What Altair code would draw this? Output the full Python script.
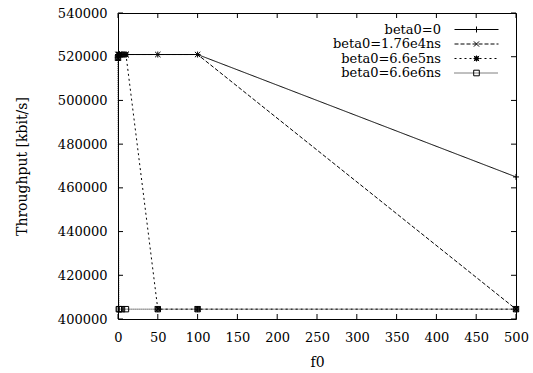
import altair as alt
import pandas as pd

# ---- data ----
f0_values = [0, 1, 2, 5, 10, 50, 100, 500]
series_names = ["beta0=0", "beta0=1.76e4ns", "beta0=6.6e5ns", "beta0=6.6e6ns"]
tp_beta0_0 = [521000, 521000, 521000, 521000, 521000, 521000, 521000, 465000]
tp_beta0_176e4 = [521000, 521000, 521000, 521000, 521000, 521000, 521000, 404500]
tp_beta0_66e5 = [519500, 521000, 521000, 521000, 521000, 404500, 404500, 404500]
tp_beta0_66e6 = [519500, 404500, 404500, 404500, 404500, 404500, 404500, 404500]
x_ticks = [0, 50, 100, 150, 200, 250, 300, 350, 400, 450, 500]
y_ticks = [400000, 420000, 440000, 460000, 480000, 500000, 520000, 540000]

all_tp = [tp_beta0_0, tp_beta0_176e4, tp_beta0_66e5, tp_beta0_66e6]
df = pd.DataFrame({
    "f0": [x for _ in series_names for x in f0_values],
    "tp": [v for s in all_tp for v in s],
    "series": [n for n in series_names for _ in f0_values],
})

W, H = 398, 306
FONT = "DejaVu Serif"
FS = 13
TFS = 14

# ---- styling helpers ----
dash_patterns = [[1, 0], [4, 2], [2, 3], [1, 1]]

# plot markers (path in [-1,1], size 36 -> 6px)
marker_paths = [
    "M-1,0L1,0M0,-1L0,1",
    "M-0.9,-0.9L0.9,0.9M-0.9,0.9L0.9,-0.9",
    "M-1,0L1,0M0,-1L0,1M-0.9,-0.9L0.9,0.9M-0.9,0.9L0.9,-0.9M-0.6,-0.6L0.6,-0.6L0.6,0.6L-0.6,0.6Z",
    "M-0.9,-0.9L0.9,-0.9L0.9,0.9L-0.9,0.9Z",
]

# legend samples: size 64 -> 4px per unit; line 44px wide = [-5.5,5.5]
U = 4.0
def line_path(on, off):
    if off == 0:
        return "M-5.5,0L5.5,0"
    parts = []
    x = -22.0
    while x < 22.0:
        x2 = min(x + on, 22.0)
        parts.append("M%.3f,0L%.3f,0" % (x / U, x2 / U))
        x += on + off
    return "".join(parts)

legend_markers = [
    "M0,-0.75L0,0.75",
    "M-0.65,-0.65L0.65,0.65M-0.65,0.65L0.65,-0.65",
    "M-0.75,0L0.75,0M0,-0.75L0,0.75M-0.65,-0.65L0.65,0.65M-0.65,0.65L0.65,-0.65M-0.4,-0.4L0.4,-0.4L0.4,0.4L-0.4,0.4Z",
    "M-0.7,-0.7L0.7,-0.7L0.7,0.7L-0.7,0.7Z",
]
legend_paths = [line_path(*d) + m for d, m in zip(dash_patterns, legend_markers)]

xscale = alt.Scale(domain=[0, 500], nice=False, zero=False)
yscale = alt.Scale(domain=[400000, 540000], nice=False, zero=False)

x_axis = alt.Axis(values=x_ticks, title="f0", ticks=False, domain=False, grid=False,
                  labelFont=FONT, labelFontSize=FS, labelColor="black", labelPadding=12,
                  labelFlush=False, labelOverlap=False,
                  titleFont=FONT, titleFontSize=TFS, titleFontWeight="normal", titleColor="black",
                  titleX=199, titleY=43, titleBaseline="middle")
y_axis = alt.Axis(values=y_ticks, title="Throughput [kbit/s]", format="d", ticks=False, domain=False,
                  grid=False, labelFont=FONT, labelFontSize=FS, labelColor="black", labelPadding=11,
                  labelFlush=False, labelOverlap=False,
                  titleFont=FONT, titleFontSize=TFS, titleFontWeight="normal", titleColor="black",
                  titleX=-96, titleY=153, titleBaseline="middle", titleAlign="center")

X = alt.X("f0:Q", scale=xscale, axis=x_axis)
Y = alt.Y("tp:Q", scale=yscale, axis=y_axis)

lines = alt.Chart(df).mark_line(color="black", strokeWidth=1).encode(
    x=X, y=Y,
    strokeDash=alt.StrokeDash("series:N", scale=alt.Scale(domain=series_names, range=dash_patterns), legend=None),
)

points = alt.Chart(df).mark_point(filled=False, color="black", size=36, strokeWidth=1, opacity=1).encode(
    x=X, y=Y,
    shape=alt.Shape("series:N", scale=alt.Scale(domain=series_names, range=marker_paths), legend=None),
)

legend_layer = alt.Chart(df).mark_point(filled=False, color="black", size=64, strokeWidth=1, opacity=0).encode(
    x=X, y=Y,
    shape=alt.Shape("series:N", scale=alt.Scale(domain=series_names, range=legend_paths),
                    legend=alt.Legend(title=None, orient="none", legendX=352, legendY=10,
                                      labelAlign="right", labelOffset={"expr": "-42"},
                                      labelBaseline="middle",
                                      labelFont=FONT, labelFontSize=FS, labelColor="black",
                                      symbolSize=64, symbolStrokeColor="black",
                                      symbolFillColor="transparent", symbolOpacity=1,
                                      symbolStrokeWidth=1, rowPadding=0.5, padding=0)),
)

xt = pd.DataFrame({"f0": x_ticks})
yt = pd.DataFrame({"tp": y_ticks})
TL = 5
xt_bottom = alt.Chart(xt).mark_rule(color="black", strokeWidth=1).encode(
    x=X, y=alt.value(H), y2=alt.value(H - TL))
xt_top = alt.Chart(xt).mark_rule(color="black", strokeWidth=1).encode(
    x=X, y=alt.value(0), y2=alt.value(TL))
yt_left = alt.Chart(yt).mark_rule(color="black", strokeWidth=1).encode(
    y=Y, x=alt.value(0), x2=alt.value(TL))
yt_right = alt.Chart(yt).mark_rule(color="black", strokeWidth=1).encode(
    y=Y, x=alt.value(W), x2=alt.value(W - TL))

chart = alt.layer(lines, points, legend_layer, xt_bottom, xt_top, yt_left, yt_right).resolve_scale(
    shape="independent"
).properties(
    width=W, height=H,
    padding={"left": 118, "top": 13, "right": 17, "bottom": 54},
    autosize=alt.AutoSizeParams(type="none"),
    background="white",
).configure(font=FONT).configure_view(stroke="black", strokeWidth=1)

chart.save("out.html", embed_options={"renderer": "svg", "actions": False})
